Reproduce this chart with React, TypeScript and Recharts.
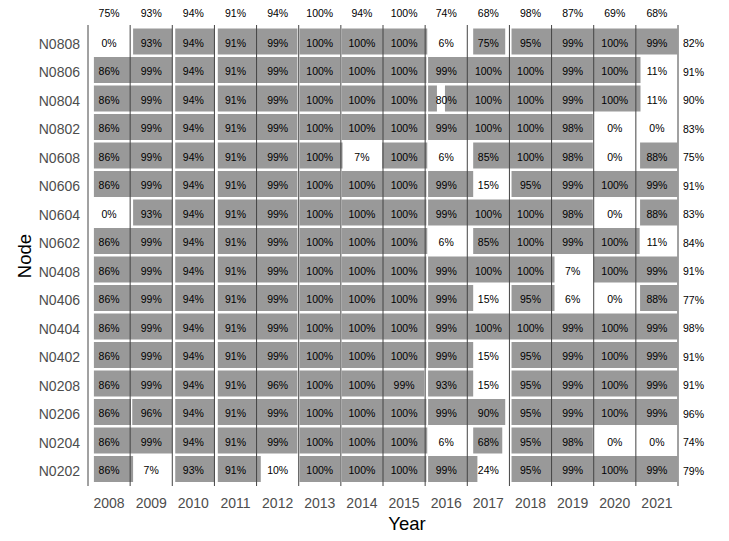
import { BarChart, Bar, XAxis, YAxis, ReferenceLine, LabelList } from 'recharts';

const years = [2008, 2009, 2010, 2011, 2012, 2013, 2014, 2015, 2016, 2017, 2018, 2019, 2020, 2021];

const nodes = [
  'N0808', 'N0806', 'N0804', 'N0802', 'N0608', 'N0606', 'N0604', 'N0602',
  'N0408', 'N0406', 'N0404', 'N0402', 'N0208', 'N0206', 'N0204', 'N0202',
];

// totals printed above each year column and right of each node row
const yearTotals = [75, 93, 94, 91, 94, 100, 94, 100, 74, 68, 98, 87, 69, 68];
const nodeTotals = [82, 91, 90, 83, 75, 91, 83, 84, 91, 77, 98, 91, 91, 96, 74, 79];

// percent of the year with data, one row per node
const cellPct = [
  [0, 93, 94, 91, 99, 100, 100, 100, 6, 75, 95, 99, 100, 99],
  [86, 99, 94, 91, 99, 100, 100, 100, 99, 100, 100, 99, 100, 11],
  [86, 99, 94, 91, 99, 100, 100, 100, 80, 100, 100, 99, 100, 11],
  [86, 99, 94, 91, 99, 100, 100, 100, 99, 100, 100, 98, 0, 0],
  [86, 99, 94, 91, 99, 100, 7, 100, 6, 85, 100, 98, 0, 88],
  [86, 99, 94, 91, 99, 100, 100, 100, 99, 15, 95, 99, 100, 99],
  [0, 93, 94, 91, 99, 100, 100, 100, 99, 100, 100, 98, 0, 88],
  [86, 99, 94, 91, 99, 100, 100, 100, 6, 85, 100, 99, 100, 11],
  [86, 99, 94, 91, 99, 100, 100, 100, 99, 100, 100, 7, 100, 99],
  [86, 99, 94, 91, 99, 100, 100, 100, 99, 15, 95, 6, 0, 88],
  [86, 99, 94, 91, 99, 100, 100, 100, 99, 100, 100, 99, 100, 99],
  [86, 99, 94, 91, 99, 100, 100, 100, 99, 15, 95, 99, 100, 99],
  [86, 99, 94, 91, 96, 100, 100, 99, 93, 15, 95, 99, 100, 99],
  [86, 96, 94, 91, 99, 100, 100, 100, 99, 90, 95, 99, 100, 99],
  [86, 99, 94, 91, 99, 100, 100, 100, 6, 68, 95, 98, 0, 0],
  [86, 7, 93, 91, 10, 100, 100, 100, 99, 24, 95, 99, 100, 99],
];

// periods with data (decimal years), one list per node
const coverage: [number, number][][] = [
  [[2009.07, 2010.0], [2010.07, 2011.0], [2011.08, 2012.97], [2013.02, 2013.98], [2014.02, 2016.05], [2017.14, 2017.9], [2018.05, 2021.98]],
  [[2008.14, 2010.0], [2010.07, 2011.0], [2011.08, 2012.97], [2013.02, 2013.98], [2014.02, 2016.03], [2016.07, 2021.11]],
  [[2008.14, 2010.0], [2010.07, 2011.0], [2011.08, 2012.97], [2013.02, 2013.98], [2014.02, 2016.03], [2016.07, 2016.28], [2016.47, 2021.11]],
  [[2008.14, 2010.0], [2010.07, 2011.0], [2011.08, 2012.97], [2013.02, 2013.98], [2014.02, 2016.03], [2016.07, 2019.98]],
  [[2008.14, 2010.0], [2010.07, 2011.0], [2011.08, 2012.97], [2013.02, 2014.04], [2014.98, 2016.05], [2017.14, 2019.98], [2021.1, 2021.98]],
  [[2008.14, 2010.0], [2010.07, 2011.0], [2011.08, 2012.97], [2013.02, 2013.98], [2014.02, 2016.03], [2016.07, 2017.14], [2018.05, 2021.98]],
  [[2009.07, 2010.0], [2010.07, 2011.0], [2011.08, 2012.97], [2013.02, 2013.98], [2014.02, 2016.03], [2016.07, 2019.98], [2021.1, 2021.98]],
  [[2008.14, 2010.0], [2010.07, 2011.0], [2011.08, 2012.97], [2013.02, 2013.98], [2014.02, 2016.05], [2017.14, 2021.09]],
  [[2008.14, 2010.0], [2010.07, 2011.0], [2011.08, 2012.97], [2013.02, 2013.98], [2014.02, 2016.03], [2016.07, 2019.07], [2020.0, 2021.98]],
  [[2008.14, 2010.0], [2010.07, 2011.0], [2011.08, 2012.97], [2013.02, 2013.98], [2014.02, 2016.03], [2016.07, 2017.14], [2018.05, 2019.07], [2021.1, 2021.98]],
  [[2008.14, 2010.0], [2010.07, 2011.0], [2011.08, 2012.97], [2013.02, 2013.98], [2014.02, 2016.03], [2016.07, 2021.98]],
  [[2008.14, 2010.0], [2010.07, 2011.0], [2011.08, 2012.97], [2013.02, 2013.98], [2014.02, 2016.03], [2016.07, 2017.14], [2018.05, 2021.98]],
  [[2008.14, 2010.0], [2010.07, 2011.0], [2011.08, 2012.97], [2013.02, 2013.98], [2014.02, 2015.98], [2016.07, 2017.14], [2018.05, 2021.98]],
  [[2008.14, 2009.02], [2009.05, 2010.0], [2010.07, 2011.0], [2011.08, 2012.97], [2013.02, 2013.98], [2014.02, 2016.03], [2016.07, 2017.9], [2018.05, 2021.98]],
  [[2008.14, 2010.0], [2010.07, 2011.0], [2011.08, 2012.97], [2013.02, 2013.98], [2014.02, 2016.05], [2017.14, 2017.83], [2018.05, 2019.98]],
  [[2008.14, 2009.07], [2010.07, 2011.0], [2011.08, 2012.1], [2013.02, 2013.98], [2014.02, 2016.03], [2016.07, 2017.24], [2018.05, 2021.98]],
];

const maxSegs = Math.max(...coverage.map((c) => c.length));
const firstYear = years[0];
const lastYear = years[years.length - 1] + 1;
const yearTicks = years.map((y) => y + 0.5);
const yearEdges = [...years, lastYear];

const rows = nodes.map((node, i) => {
  const row: Record<string, unknown> = { node };
  coverage[i].forEach((seg, k) => {
    row[`s${k}`] = seg;
  });
  years.forEach((yr, j) => {
    row[`c${j}`] = [yr, yr + 1];
    row[`p${j}`] = `${cellPct[i][j]}%`;
  });
  return row;
});

const BAR = 26;

const NodeTitle = () => (
  <text x={31} y={256} transform="rotate(-90 31 256)" textAnchor="middle" fontSize={18.5} fill="#000">
    Node
  </text>
);

const YearTitle = () => (
  <text x={407} y={530} textAnchor="middle" fontSize={18.5} fill="#000">
    Year
  </text>
);

export default function App() {
  return (
    <div style={{ position: 'absolute', left: 0, top: 0, background: '#fff' }}>
      <BarChart
        width={729}
        height={541}
        data={rows}
        layout="vertical"
        barSize={BAR}
        barGap={-BAR}
        margin={{ top: 0, right: 0, bottom: 0, left: 0 }}
        style={{ fontFamily: '"Liberation Sans", Arial, sans-serif' }}
      >
        <XAxis
          type="number"
          domain={[firstYear, lastYear]}
          allowDataOverflow
          ticks={yearTicks}
          interval={0}
          tickFormatter={(v) => String(Math.floor(v))}
          axisLine={false}
          tickLine={false}
          tickSize={6}
          tickMargin={6}
          height={55}
          tick={{ fill: '#4D4D4D', fontSize: 14 }}
          label={<YearTitle />}
        />
        <XAxis
          xAxisId="top"
          orientation="top"
          type="number"
          domain={[firstYear, lastYear]}
          allowDataOverflow
          ticks={yearTicks}
          interval={0}
          tickFormatter={(v) => `${yearTotals[years.indexOf(Math.floor(v))]}%`}
          axisLine={false}
          tickLine={false}
          tickSize={6}
          tickMargin={2}
          height={25}
          tick={{ fill: '#000', fontSize: 10.5 }}
        />
        <YAxis
          type="category"
          dataKey="node"
          width={88}
          interval={0}
          axisLine={false}
          tickLine={false}
          tickSize={6}
          tickMargin={2}
          padding={{ top: 2.5, bottom: 2.5 }}
          tick={{ fill: '#4D4D4D', fontSize: 14, dy: 2 }}
          label={<NodeTitle />}
        />
        <YAxis
          yAxisId="right"
          orientation="right"
          type="category"
          dataKey="node"
          width={51}
          interval={0}
          axisLine={false}
          tickLine={false}
          tickSize={0}
          tickMargin={5}
          padding={{ top: 2.5, bottom: 2.5 }}
          tickFormatter={(v) => `${nodeTotals[nodes.indexOf(v)]}%`}
          tick={{ fill: '#000', fontSize: 10.5, textAnchor: 'start', dy: 2 }}
        />
        {Array.from({ length: maxSegs }, (_, k) => (
          <Bar key={`s${k}`} dataKey={`s${k}`} fill="#999999" barSize={BAR} isAnimationActive={false} />
        ))}
        {years.map((yr, j) => (
          <Bar key={`c${yr}`} dataKey={`c${j}`} fill="none" barSize={BAR} isAnimationActive={false}>
            <LabelList dataKey={`p${j}`} position="center" fill="#000" fontSize={10.5} dy={1.5} />
          </Bar>
        ))}
        {yearEdges.map((x) => (
          <ReferenceLine key={x} x={x} stroke="#444444" strokeWidth={1} />
        ))}
      </BarChart>
    </div>
  );
}
